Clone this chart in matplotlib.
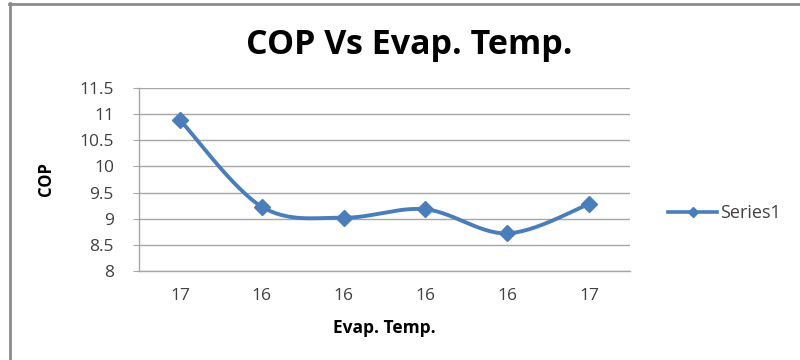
import numpy as np
import matplotlib
matplotlib.use("Agg")
import matplotlib.pyplot as plt
from matplotlib.lines import Line2D

# COP readings against evaporator temperature
temp_labels = ["17", "16", "16", "16", "16", "17"]
cop_values = [10.89, 9.23, 9.02, 9.18, 8.72, 9.28]
y_ticks = [8, 8.5, 9, 9.5, 10, 10.5, 11, 11.5]
y_tick_labels = ["8", "8.5", "9", "9.5", "10", "10.5", "11", "11.5"]

line_color = "#4a7ebb"
text_color = "#404040"
grid_color = "#a6a6a6"


def smooth_curve(x, y, steps=30):
    # Catmull-Rom spline through the points, like a spreadsheet "smoothed line"
    px = np.concatenate([[x[0]], x, [x[-1]]])
    py = np.concatenate([[y[0]], y, [y[-1]]])
    xs, ys = [], []
    t = np.linspace(0, 1, steps)
    for i in range(1, len(px) - 2):
        for p, out in ((px, xs), (py, ys)):
            p0, p1, p2, p3 = p[i - 1], p[i], p[i + 1], p[i + 2]
            out.extend(0.5 * ((2 * p1) + (-p0 + p2) * t
                              + (2 * p0 - 5 * p1 + 4 * p2 - p3) * t ** 2
                              + (-p0 + 3 * p1 - 3 * p2 + p3) * t ** 3))
    return np.array(xs), np.array(ys)


plt.rcParams["font.family"] = ["Open Sans", "DejaVu Sans"]

fig = plt.figure(figsize=(8, 3.6), dpi=100)
ax = fig.add_axes([139 / 800, 89 / 360, 491 / 800, 183 / 360])

x = np.arange(len(cop_values))
sx, sy = smooth_curve(x.astype(float), np.array(cop_values))
ax.plot(sx, sy, color=line_color, lw=2.8, solid_capstyle="round", zorder=3)
ax.plot(x, cop_values, ls="none", marker="D", ms=8.5, color=line_color, zorder=4)

ax.set_xlim(-0.5, len(cop_values) - 0.5)
ax.set_ylim(8, 11.5)
ax.set_yticks(y_ticks)
ax.set_yticklabels(y_tick_labels)
ax.set_xticks(x)
ax.set_xticklabels(temp_labels)

ax.yaxis.grid(True, color=grid_color, lw=1.0)
ax.set_axisbelow(True)
for side in ("top", "right"):
    ax.spines[side].set_visible(False)
for side in ("left", "bottom"):
    ax.spines[side].set_color(grid_color)
    ax.spines[side].set_linewidth(1.0)

ax.tick_params(axis="y", length=4, color=grid_color, pad=14,
               labelsize=12.5, labelcolor=text_color)
ax.tick_params(axis="x", length=0, pad=12, labelsize=12.5, labelcolor=text_color)

ax.set_ylabel("COP", fontsize=12, fontweight="bold", color="black", labelpad=18)
ax.set_xlabel("Evap. Temp.", fontsize=12.5, fontweight="bold", color="black", labelpad=11)

fig.text(409 / 800, 1 - 45 / 360, "COP Vs Evap. Temp.", ha="center", va="center",
         fontsize=24.5, fontweight="bold", color="black")

# legend entry
handle = Line2D([], [], color=line_color, lw=2.6, marker="D", ms=5.5)
fig.legend([handle], ["Series1"], loc="center left",
           bbox_to_anchor=(652 / 800, 1 - 213 / 360), frameon=False,
           handlelength=2.7, handletextpad=0.15, fontsize=13,
           labelcolor=text_color)

# chart border
fig.add_artist(Line2D([9 / 800, 1], [1 - 3.5 / 360] * 2, color="#8c8c8c", lw=2))
fig.add_artist(Line2D([9.5 / 800] * 2, [0, 1 - 3 / 360], color="#8c8c8c", lw=2))

fig.savefig("out.png", dpi=100)
